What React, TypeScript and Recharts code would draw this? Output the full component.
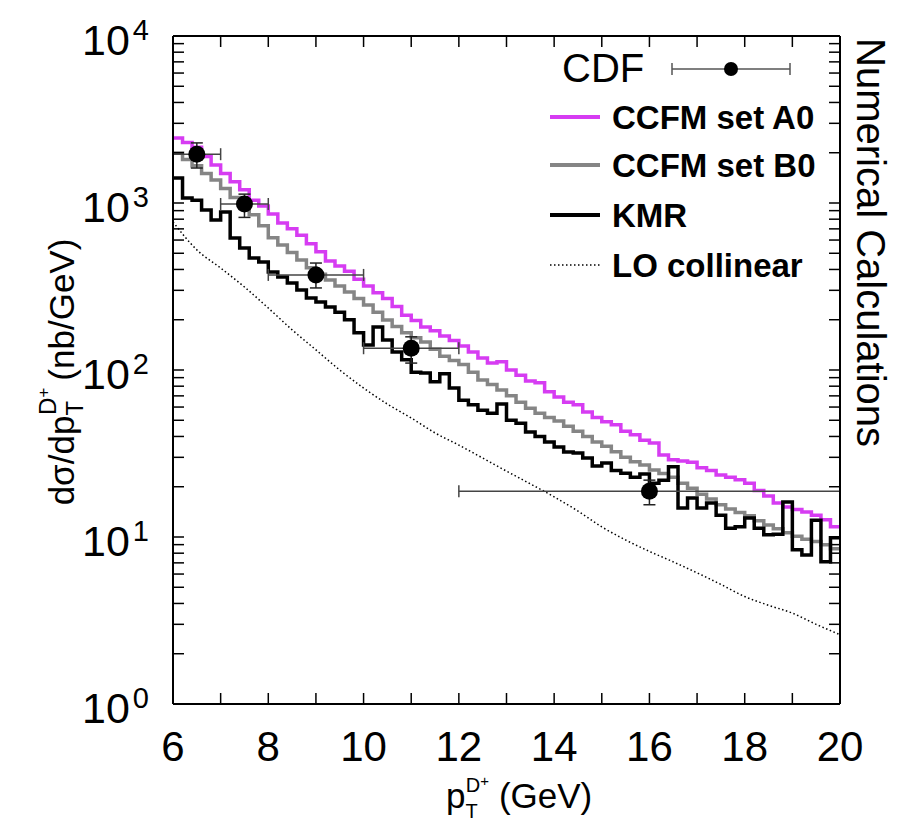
import React from "react";
import { ComposedChart, Line, XAxis, YAxis, Scatter, ErrorBar } from "recharts";

// bin edges 6.0 ... 20.0 GeV, 0.2 GeV wide
const BIN_EDGES = Array.from({ length: 71 }, (_, i) => +(6 + i * 0.2).toFixed(1));

// dsigma/dpT (nb/GeV), one value per bin
const CCFM_A0 = [
  2450, 2300, 2160, 1900, 1690, 1500, 1340, 1200, 1040, 960,
  860, 760, 700, 640, 570, 510, 450, 420, 390, 350,
  318, 290, 268, 240, 213, 198, 181, 172, 160, 150,
  139, 128, 118, 110, 112, 100, 93, 86, 84, 74,
  69, 64, 62, 56, 52, 49, 47, 43, 41, 38,
  36.5, 31, 29, 28.5, 28, 26, 25, 23.5, 22.8, 22,
  21, 19, 17.6, 16, 15.1, 14.6, 14.1, 13.5, 12.7, 11.5,
];
const CCFM_B0 = [
  1990, 1820, 1670, 1500, 1375, 1220, 1080, 940, 850, 730,
  620, 560, 505, 455, 410, 375, 346, 318, 293, 268,
  245, 222, 199, 182, 167, 156, 147, 133, 121, 114,
  108, 97, 87, 82, 76, 70, 64, 59, 55, 52,
  49.5, 46, 43, 40, 37, 35, 32.4, 30, 28.2, 27,
  25.2, 24, 22.8, 21, 19.6, 18, 16.9, 15.6, 14.7, 14,
  13.4, 12.5, 11.8, 11.2, 10.6, 10.1, 9.7, 9.4, 9.0, 8.5,
];
const KMR = [
  1410, 1070, 1040, 908, 790, 884, 618, 537, 468, 444,
  386, 361, 332, 301, 270, 255, 238, 222, 200, 167,
  141, 181, 151, 128, 115, 97, 96, 85, 95, 78,
  66, 62, 57.5, 55, 62.5, 50, 48, 42.5, 40, 37,
  34.6, 32.3, 31.8, 29.7, 26.6, 27.7, 25, 24.1, 22.8, 23.8,
  21, 21.9, 26.3, 14.9, 17.1, 14.9, 16, 13.5, 11.3, 11.5,
  13, 11.3, 10.3, 10.4, 16.2, 8.4, 7.8, 12.6, 7.1, 9.9,
];

const LO_X = [6, 6.5, 7, 7.5, 8, 8.5, 9, 9.5, 10, 10.5, 11, 11.5, 12, 12.5, 13, 13.5, 14, 14.5, 15, 15.5, 16, 16.5, 17, 17.5, 18, 18.5, 19, 19.5, 20];
const LO_COLLINEAR = [770, 524, 408, 314, 235, 174, 132, 100, 78, 62.5, 51.6, 42, 35.5, 29.7, 24.8, 20.8, 17.4, 14.3, 11.5, 9.6, 8.2, 7.1, 6.1, 5.2, 4.4, 3.9, 3.5, 3.0, 2.6];

// CDF measurement
const CDF_X = [6.5, 7.5, 9, 11, 16];
const CDF_Y = [1960, 986, 371, 135, 18.8];
const CDF_XERR = [[0.5, 0.5], [0.5, 0.5], [1, 1], [1, 1], [4, 4]];
const CDF_YERR = [[340, 330], [166, 144], [61, 66], [25, 23], [3.2, 3.1]];

const X_TICKS = [6, 7, 8, 9, 10, 11, 12, 13, 14, 15, 16, 17, 18, 19, 20];
const Y_TICKS = [
  1, 2, 3, 4, 5, 6, 7, 8, 9,
  10, 20, 30, 40, 50, 60, 70, 80, 90,
  100, 200, 300, 400, 500, 600, 700, 800, 900,
  1000, 2000, 3000, 4000, 5000, 6000, 7000, 8000, 9000,
  10000,
];

const FONT = "'Liberation Sans', Arial, Helvetica, sans-serif";
const MAGENTA = "#d63cf2";
const GREY = "#858585";

const toSteps = (vals: number[]) => [
  ...vals.map((v, i) => ({ x: BIN_EDGES[i], v })),
  { x: BIN_EDGES[vals.length], v: vals[vals.length - 1] },
];

const a0Data = toSteps(CCFM_A0);
const b0Data = toSteps(CCFM_B0);
const kmrData = toSteps(KMR);
const loData = LO_X.map((x, i) => ({ x, v: LO_COLLINEAR[i] }));
const cdfData = CDF_X.map((x, i) => ({ x, y: CDF_Y[i], ex: CDF_XERR[i], ey: CDF_YERR[i] }));

const TICK = 11;

const isDecade = (v: number) => Math.abs(Math.log10(v) - Math.round(Math.log10(v))) < 1e-6;

const LeftTick = ({ x, y, payload }: any) => (
  <g>
    <line x1={x} x2={x + TICK} y1={y} y2={y} stroke="#000" strokeWidth={1.5} />
    {isDecade(payload.value) && (
      <text x={x - 24} y={y} textAnchor="end" fontFamily={FONT} fill="#000">
        <tspan fontSize={43} dy={19}>10</tspan>
        <tspan fontSize={29} dy={-15} dx={3}>{Math.round(Math.log10(payload.value))}</tspan>
      </text>
    )}
  </g>
);

const RightTick = ({ x, y }: any) => (
  <line x1={x} x2={x - TICK} y1={y} y2={y} stroke="#000" strokeWidth={1.5} />
);

const BottomTick = ({ x, y, payload }: any) => (
  <g>
    <line x1={x} x2={x} y1={y} y2={y - TICK} stroke="#000" strokeWidth={1.5} />
    {payload.value % 2 === 0 && (
      <text x={x} y={y + 57} textAnchor="middle" fontSize={42} fontFamily={FONT} fill="#000">
        {payload.value}
      </text>
    )}
  </g>
);

const TopTick = ({ x, y }: any) => (
  <line x1={x} x2={x} y1={y} y2={y + TICK} stroke="#000" strokeWidth={1.5} />
);

const CdfDot = ({ cx, cy }: any) => <circle cx={cx} cy={cy} r={8.5} fill="#000" />;

const axisLine = { stroke: "#000", strokeWidth: 2 };

export default function App() {
  return (
    <div style={{ position: "relative", width: 903, height: 831, background: "#fff", fontFamily: FONT }}>
      <style>{"body{margin:0}"}</style>
      <ComposedChart width={903} height={831} margin={{ top: 0, right: 0, bottom: 0, left: 0 }}>
        <XAxis
          dataKey="x"
          type="number"
          domain={[6, 20]}
          ticks={X_TICKS}
          interval={0}
          allowDataOverflow
          height={127}
          axisLine={axisLine}
          tickLine={false}
          tickSize={0}
          tickMargin={0}
          tick={<BottomTick />}
        />
        <XAxis
          xAxisId="top"
          orientation="top"
          dataKey="x"
          type="number"
          domain={[6, 20]}
          ticks={X_TICKS}
          interval={0}
          allowDataOverflow
          height={36}
          axisLine={axisLine}
          tickLine={false}
          tickSize={0}
          tickMargin={0}
          tick={<TopTick />}
        />
        <YAxis
          scale="log"
          type="number"
          domain={[1, 10000]}
          ticks={Y_TICKS}
          interval={0}
          allowDataOverflow
          width={173}
          axisLine={axisLine}
          tickLine={false}
          tickSize={0}
          tickMargin={0}
          tick={<LeftTick />}
        />
        <YAxis
          yAxisId="right"
          orientation="right"
          scale="log"
          type="number"
          domain={[1, 10000]}
          ticks={Y_TICKS}
          interval={0}
          allowDataOverflow
          width={63}
          axisLine={axisLine}
          tickLine={false}
          tickSize={0}
          tickMargin={0}
          tick={<RightTick />}
        />
        <Line data={loData} dataKey="v" type="monotone" stroke="#000" strokeWidth={1.5} strokeDasharray="1.5 2.5" dot={false} isAnimationActive={false} />
        <Line data={a0Data} dataKey="v" type="stepAfter" stroke={MAGENTA} strokeWidth={3.5} dot={false} isAnimationActive={false} />
        <Line data={b0Data} dataKey="v" type="stepAfter" stroke={GREY} strokeWidth={3.5} dot={false} isAnimationActive={false} />
        <Line data={kmrData} dataKey="v" type="stepAfter" stroke="#000" strokeWidth={3.5} dot={false} isAnimationActive={false} />
        <Scatter data={cdfData} dataKey="y" shape={<CdfDot />} isAnimationActive={false}>
          <ErrorBar dataKey="ex" direction="x" width={6} stroke="#444" strokeWidth={1.5} />
          <ErrorBar dataKey="ey" direction="y" width={6} stroke="#222" strokeWidth={1.5} />
        </Scatter>
      </ComposedChart>

      <svg width={903} height={831} style={{ position: "absolute", left: 0, top: 0, pointerEvents: "none" }} fontFamily={FONT}>
        {/* legend */}
        <text x={562} y={82} fontSize={40} fill="#000">CDF</text>
        <line x1={672} x2={790} y1={69} y2={69} stroke="#555" strokeWidth={1.5} />
        <line x1={672} x2={672} y1={63} y2={75} stroke="#555" strokeWidth={1.5} />
        <line x1={790} x2={790} y1={63} y2={75} stroke="#555" strokeWidth={1.5} />
        <circle cx={731} cy={69} r={7} fill="#000" />

        <line x1={550} x2={600} y1={117} y2={117} stroke={MAGENTA} strokeWidth={4} />
        <text x={612} y={129} fontSize={33} fontWeight="bold" fill="#000">CCFM set A0</text>
        <line x1={550} x2={600} y1={165} y2={165} stroke={GREY} strokeWidth={4} />
        <text x={612} y={177} fontSize={33} fontWeight="bold" fill="#000">CCFM set B0</text>
        <line x1={550} x2={600} y1={215} y2={215} stroke="#000" strokeWidth={4} />
        <text x={612} y={227} fontSize={33} fontWeight="bold" fill="#000">KMR</text>
        <line x1={550} x2={600} y1={265} y2={265} stroke="#000" strokeWidth={1.5} strokeDasharray="1.5 2.5" />
        <text x={612} y={277} fontSize={33} fontWeight="bold" fill="#000">LO collinear</text>

        {/* right-hand note */}
        <text transform="translate(857,38) rotate(90)" fontSize={40} fill="#000">Numerical Calculations</text>

        {/* y title */}
        <text transform="translate(74,372) rotate(-90)" textAnchor="middle" fontSize={35} fill="#000">
          <tspan>dσ/dp</tspan>
          <tspan fontSize={24} dy={9}>T</tspan>
          <tspan fontSize={24} dx={-14} dy={-27}>D</tspan>
          <tspan fontSize={17} dy={-7}>+</tspan>
          <tspan fontSize={35} dx={7} dy={25}>(nb/GeV)</tspan>
        </text>

        {/* x title */}
        <text x={446} y={808} fontSize={35} fill="#000">
          <tspan>p</tspan>
          <tspan fontSize={20} dy={10}>T</tspan>
          <tspan fontSize={20} dx={-12} dy={-26}>D</tspan>
          <tspan fontSize={15} dy={-6}>+</tspan>
          <tspan fontSize={35} dx={10} dy={22}>(GeV)</tspan>
        </text>
      </svg>
    </div>
  );
}
